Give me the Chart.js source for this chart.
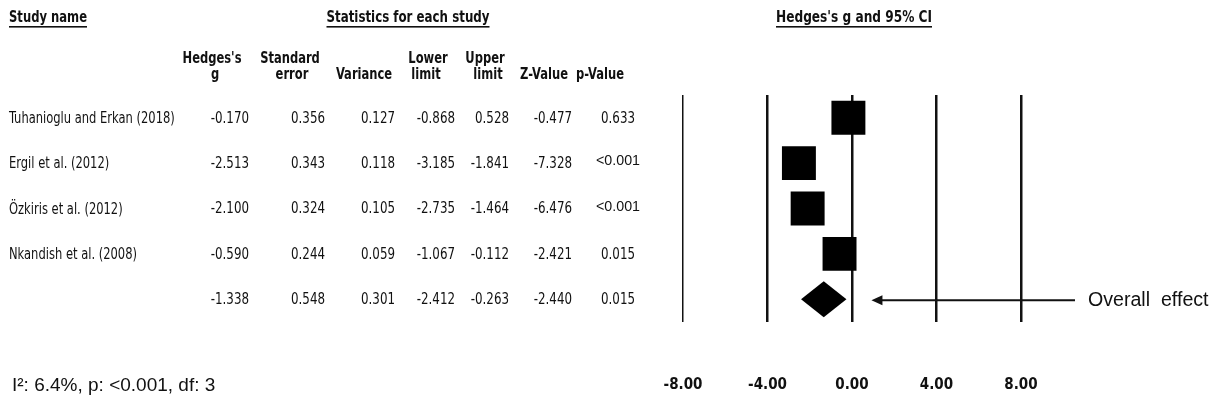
<!DOCTYPE html>
<html>
<head>
<meta charset="utf-8">
<script src="https://cdn.jsdelivr.net/npm/chart.js@4/dist/chart.umd.min.js"></script>
<style>
  body { margin: 0; background: #fff; }
  #wrap { width: 1215px; height: 407px; position: relative; }
</style>
</head>
<body>
<div id="wrap"><canvas id="forest"></canvas></div>
<script>
// study rows
const studies = ['Tuhanioglu and Erkan (2018)', 'Ergil et al. (2012)', 'Özkiris et al. (2012)', 'Nkandish et al. (2008)'];
const hedgesG = [-0.170, -2.513, -2.100, -0.590];
const stdErr = [0.356, 0.343, 0.324, 0.244];
const variance = [0.127, 0.118, 0.105, 0.059];
const lowerLimit = [-0.868, -3.185, -2.735, -1.067];
const upperLimit = [0.528, -1.841, -1.464, -0.112];
const zValue = [-0.477, -7.328, -6.476, -2.421];
const pValue = ['0.633', '<0.001', '<0.001', '0.015'];

// overall row: g, se, var, lower, upper, z
const overallRow = [-1.338, 0.548, 0.301, -2.412, -0.263, -2.440];
const overallP = '0.015';

const xTicks = [-8, -4, 0, 4, 8];
const heteroText = 'I²: 6.4%, p: <0.001, df: 3';

const NARROW = '"Liberation Sans Narrow", "DejaVu Sans Condensed", Arial, sans-serif';
const ARIAL = '"Liberation Sans", Arial, sans-serif';

// draws text squeezed horizontally by factor f (fake condensed type)
function txt(ctx, s, x, y, font, align, f) {
  ctx.font = font;
  ctx.textAlign = align || 'left';
  ctx.textBaseline = 'middle';
  const w = ctx.measureText(s).width * (f || 1);
  ctx.fillText(s, x, y, w);
}

function titleU(ctx, s, cx, y, w) {
  ctx.font = 'bold 16px ' + NARROW;
  ctx.textAlign = 'center';
  ctx.textBaseline = 'middle';
  ctx.fillText(s, cx, y, w);
  ctx.fillRect(cx - w / 2, y + 8, w, 1.6);
}

const ciPlugin = {
  id: 'ciLines',
  beforeDatasetsDraw(chart) {
    const ctx = chart.ctx;
    const xs = chart.scales.x, ys = chart.scales.y;
    ctx.save();
    ctx.strokeStyle = '#000';
    ctx.lineWidth = 2;
    studies.forEach((s, i) => {
      const y = ys.getPixelForValue(i);
      ctx.beginPath();
      ctx.moveTo(xs.getPixelForValue(lowerLimit[i]), y);
      ctx.lineTo(xs.getPixelForValue(upperLimit[i]), y);
      ctx.stroke();
    });
    ctx.restore();
  }
};

const tablePlugin = {
  id: 'forestTable',
  afterDraw(chart) {
    const ctx = chart.ctx;
    const xs = chart.scales.x, ys = chart.scales.y;
    ctx.save();
    ctx.fillStyle = '#111';
    ctx.strokeStyle = '#111';

    // titles
    titleU(ctx, 'Study name', 48, 18, 78);
    titleU(ctx, 'Statistics for each study', 408, 18, 163);
    titleU(ctx, "Hedges's g and 95% CI", 854, 18, 156);

    // column headers
    const hf = 'bold 16px ' + NARROW, q = 0.8;
    txt(ctx, "Hedges's", 212, 59, hf, 'center', q);
    txt(ctx, 'g', 215, 75, hf, 'center', q);
    txt(ctx, 'Standard', 290, 59, hf, 'center', q);
    txt(ctx, 'error', 292, 75, hf, 'center', q);
    txt(ctx, 'Variance', 364, 75, hf, 'center', q);
    txt(ctx, 'Lower', 428, 59, hf, 'center', q);
    txt(ctx, 'limit', 426, 75, hf, 'center', q);
    txt(ctx, 'Upper', 485, 59, hf, 'center', q);
    txt(ctx, 'limit', 488, 75, hf, 'center', q);
    txt(ctx, 'Z-Value', 544, 75, hf, 'center', q);
    txt(ctx, 'p-Value', 600, 75, hf, 'center', q);

    // rows
    const nf = '15px ' + NARROW;
    const cols = [249, 325, 395, 455, 509, 572];
    const drawRow = (i, vals, p, name) => {
      const y = ys.getPixelForValue(i) + 1;
      if (name) txt(ctx, name, 9, y, '16px ' + NARROW, 'left', 0.8);
      vals.forEach((v, k) => txt(ctx, v.toFixed(3), cols[k], y, nf, 'right', 0.88));
      if (p.startsWith('<')) txt(ctx, p, 618, y - 3, '15px ' + ARIAL, 'center', 0.95);
      else txt(ctx, p, 618, y, nf, 'center', 0.88);
    };
    studies.forEach((s, i) => drawRow(i, [hedgesG[i], stdErr[i], variance[i], lowerLimit[i], upperLimit[i], zValue[i]], pValue[i], s));
    drawRow(studies.length, overallRow, overallP, null);

    // overall diamond spanning the CI
    ctx.fillStyle = '#000';
    const yo = ys.getPixelForValue(studies.length);
    const xl = xs.getPixelForValue(overallRow[3]);
    const xm = xs.getPixelForValue(overallRow[0]);
    const xr = xs.getPixelForValue(overallRow[4]);
    ctx.beginPath();
    ctx.moveTo(xl, yo);
    ctx.lineTo(xm, yo - 18);
    ctx.lineTo(xr, yo);
    ctx.lineTo(xm, yo + 18);
    ctx.closePath();
    ctx.fill();

    // arrow + label
    ctx.fillStyle = '#111';
    const tip = xr + 25, tail = chart.chartArea.right + 54;
    ctx.lineWidth = 2;
    ctx.beginPath();
    ctx.moveTo(tail, yo + 1);
    ctx.lineTo(tip + 8, yo + 1);
    ctx.stroke();
    ctx.beginPath();
    ctx.moveTo(tip, yo + 1);
    ctx.lineTo(tip + 11, yo - 4);
    ctx.lineTo(tip + 11, yo + 6);
    ctx.closePath();
    ctx.fill();
    txt(ctx, 'Overall  effect', tail + 13, yo + 1, '20px ' + ARIAL, 'left', 0.98);

    // heterogeneity
    txt(ctx, heteroText, 12, 386, '19px ' + ARIAL, 'left');
    ctx.restore();
  }
};

new Chart(document.getElementById('forest'), {
  type: 'scatter',
  data: {
    datasets: [{
      label: 'Studies',
      data: hedgesG.map((g, i) => ({ x: g, y: i })),
      pointStyle: 'rect',
      pointRadius: 24,
      pointHoverRadius: 24,
      backgroundColor: '#000',
      borderColor: '#000',
      borderWidth: 0
    }]
  },
  options: {
    responsive: true,
    maintainAspectRatio: false,
    animation: false,
    layout: { padding: { left: 683, right: 194, top: 95, bottom: 0 } },
    plugins: { legend: { display: false }, tooltip: { enabled: false } },
    scales: {
      x: {
        type: 'linear',
        min: -8,
        max: 8,
        afterBuildTicks: s => { s.ticks = xTicks.map(v => ({ value: v })); },
        afterFit: s => { s.height = 85; },
        ticks: {
          padding: 54,
          color: '#111',
          font: { family: NARROW, size: 15, weight: 'bold' },
          callback: v => v.toFixed(2)
        },
        grid: {
          color: '#111',
          drawTicks: false,
          lineWidth: c => (c.tick && c.tick.value === -8 ? 1.5 : 2.5)
        },
        border: { display: false }
      },
      y: {
        type: 'linear',
        min: -0.5,
        max: 4.5,
        reverse: true,
        display: false
      }
    }
  },
  plugins: [ciPlugin, tablePlugin]
});
</script>
</body>
</html>
